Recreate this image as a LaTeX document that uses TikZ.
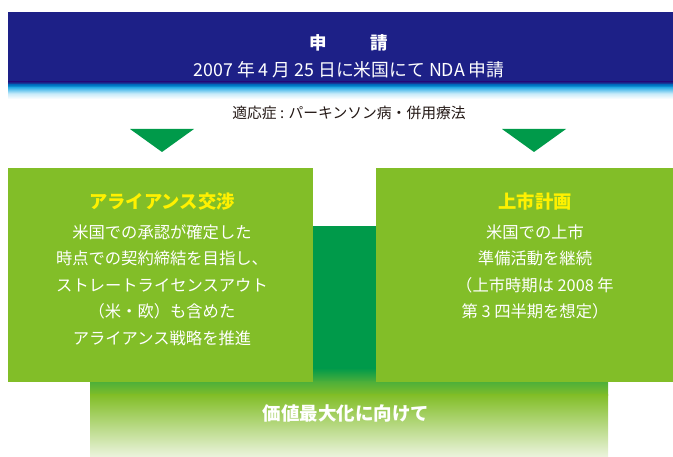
\documentclass[tikz,border=0pt]{standalone}
\usepackage{fontspec}
\setmainfont{Noto Sans CJK JP}
\definecolor{navy}{RGB}{29,32,135}
\definecolor{midblue}{RGB}{0,120,196}
\definecolor{cyanlt}{RGB}{60,180,232}
\definecolor{paleblue}{RGB}{200,235,250}
\definecolor{boxgreen}{RGB}{130,190,40}
\definecolor{darkgreen}{RGB}{0,154,74}
\definecolor{joingreen}{RGB}{76,175,58}
\definecolor{palegreen}{RGB}{236,244,222}
\definecolor{titleyellow}{RGB}{255,241,0}
\definecolor{inktext}{RGB}{35,24,21}
\begin{document}
\begin{tikzpicture}[x=1pt,y=-1pt,
  bodytext/.style={text=white,align=center,font=\fontsize{16.3}{26.5}\selectfont,inner sep=0pt},
  boxtitle/.style={text=titleyellow,font=\bfseries\fontsize{18.3}{20}\selectfont,inner sep=0pt},
  arrowtri/.style={fill=darkgreen,draw=none}]
\useasboundingbox (0,0) rectangle (673,457);
% banner
\fill[navy] (8,12) rectangle (673,82.5);
\shade[top color=navy,bottom color=midblue] (8,82) rectangle (673,85.5);
\shade[top color=midblue,bottom color=cyanlt] (8,85) rectangle (673,88.5);
\shade[top color=cyanlt,bottom color=white,middle color=paleblue] (8,88) rectangle (673,99);
\node[text=white,font=\bfseries\fontsize{17.5}{20}\selectfont,inner sep=0pt] (bantitle) at (349,43) {申\hspace{44pt}請};
\node[text=white,font=\fontsize{17.8}{20}\selectfont,inner sep=0pt] (bansub) at (349,70) {2007 年 4 月 25 日に米国にて NDA 申請};
\node[text=inktext,font=\fontsize{14.8}{16}\selectfont,inner sep=0pt] (indic) at (349,113) {適応症 : パーキンソン病・併用療法};
% triangles
\fill[arrowtri] (130,129) -- (194,129) -- (162,152) -- cycle;
\fill[arrowtri] (502,129) -- (566,129) -- (534,152) -- cycle;
% middle column
\fill[darkgreen] (313,226) rectangle (376,368.5);
\shade[top color=darkgreen,bottom color=joingreen] (313,368) rectangle (376,382);
% bottom box
\shade[top color=joingreen,bottom color=boxgreen] (90,381.5) rectangle (608,395.5);
\shade[top color=boxgreen,bottom color=palegreen] (90,395) rectangle (608,457);
\node[text=white,font=\bfseries\fontsize{18.5}{20}\selectfont,inner sep=0pt] (goal) at (346,413) {価値最大化に向けて};
% side boxes
\fill[boxgreen] (8,168) rectangle (313,382);
\fill[boxgreen] (376,168) rectangle (673,382);
\node[boxtitle] (lefttitle) at (162,202) {アライアンス交渉};
\node[bodytext] (leftbody) at (162,285) {米国での承認が確定した\\時点での契約締結を目指し、\\ストレートライセンスアウト\\（米・欧）も含めた\\アライアンス戦略を推進};
\node[boxtitle] (righttitle) at (535,202) {上市計画};
\node[bodytext] (rightbody) at (535,272) {米国での上市\\準備活動を継続\\（上市時期は 2008 年\\第 3 四半期を想定）};
\end{tikzpicture}
\end{document}
